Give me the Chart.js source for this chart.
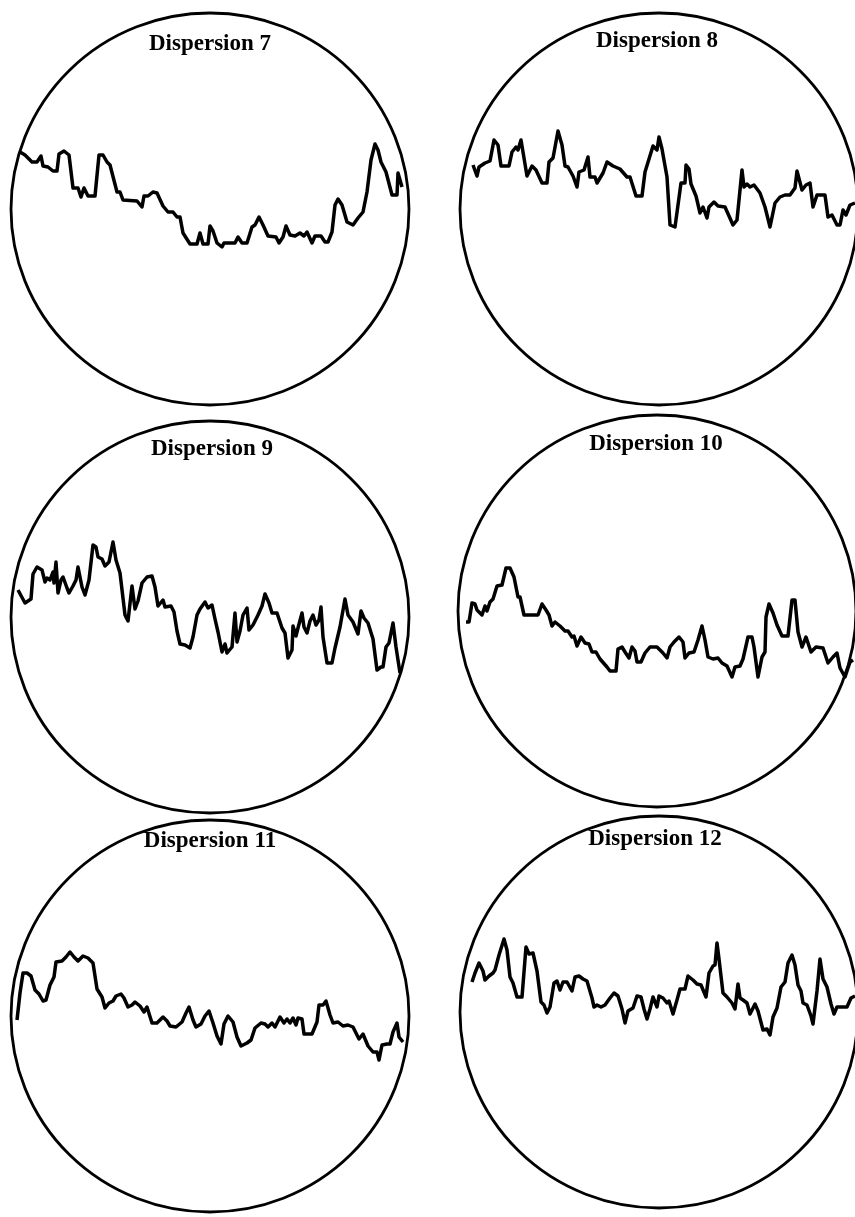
<!DOCTYPE html>
<html>
<head>
<meta charset="utf-8">
<script src="https://cdn.jsdelivr.net/npm/chart.js@4.4.1/dist/chart.umd.min.js"></script>
<style>
  html, body { margin: 0; padding: 0; background: #fff; }
  body { width: 855px; height: 1217px; position: relative; overflow: hidden; }
  canvas { position: absolute; }
  .title {
    position: absolute; width: 300px; text-align: center;
    font-family: "Liberation Serif", "DejaVu Serif", serif;
    font-weight: bold; font-size: 23px; line-height: 23px; color: #000;
  }
</style>
</head>
<body>
<script>
// Panel titles
const titles = ['Dispersion 7', 'Dispersion 8', 'Dispersion 9', 'Dispersion 10', 'Dispersion 11', 'Dispersion 12'];

// Each trace: time along the circle (0-398) and level above the circle's centre (-196..196)
const disp7Time  = [9,14,21,26,30,32,37,42,46,48,53,58,62,67,70,73,77,84,88,92,96,99,106,109,112,126,131,133,137,142,146,152,157,162,166,169,172,179,186,189,192,197,199,202,206,211,213,224,227,231,236,241,244,248,252,257,265,268,272,275,279,284,289,293,296,301,304,310,314,317,321,324,327,331,336,342,347,352,356,360,364,367,370,375,381,386,387,391];
const disp7Level = [57,54,47,47,53,43,42,38,38,55,58,54,21,21,12,21,13,13,54,54,47,44,17,17,9,8,2,13,13,17,16,3,-3,-3,-8,-8,-24,-35,-35,-24,-35,-35,-17,-22,-34,-38,-34,-34,-28,-34,-34,-18,-16,-8,-16,-27,-28,-34,-28,-17,-26,-27,-24,-27,-23,-34,-27,-27,-33,-33,-23,4,10,4,-13,-16,-9,-3,17,49,65,59,47,37,14,14,36,22];

const disp8Time  = [13,17,19,25,30,34,38,41,49,52,56,58,61,63,67,72,76,82,87,89,93,98,102,105,108,113,117,119,124,128,130,135,137,143,147,153,160,167,170,176,182,185,193,197,199,202,207,210,215,221,225,226,229,231,236,240,243,247,249,254,258,265,273,277,282,284,287,290,294,300,305,310,315,320,325,330,335,337,342,346,350,353,357,365,368,372,377,380,383,386,390,395];
const disp8Level = [44,33,42,46,48,69,64,43,43,57,62,59,69,57,33,43,39,26,26,47,51,78,64,43,42,33,22,37,39,52,32,32,26,36,47,43,40,32,32,13,13,37,63,59,72,60,32,-16,-18,26,26,44,40,25,13,-4,2,-9,2,7,3,2,-16,-11,39,22,25,22,24,16,2,-18,6,12,14,14,21,38,19,24,26,2,14,14,-8,-6,-16,-16,-1,-6,4,6];

const disp9Time  = [7,14,20,22,26,31,34,36,39,42,43,45,47,50,52,56,58,62,65,67,71,74,78,82,85,87,91,94,98,102,105,109,114,117,121,124,127,131,136,141,144,147,152,154,160,163,166,169,174,179,182,186,189,194,197,201,204,207,211,214,216,221,224,226,229,232,236,238,242,247,251,254,258,261,266,271,274,277,281,282,285,287,291,293,296,299,302,305,308,310,312,316,321,324,329,334,337,342,347,350,353,357,362,366,370,372,375,378,382,385,389];
const disp9Level = [27,14,18,43,50,47,35,39,37,45,34,55,24,37,40,29,24,31,37,50,30,22,37,72,70,60,58,51,55,75,57,44,2,-4,31,8,16,34,40,41,30,11,17,10,11,5,-14,-27,-28,-31,-20,2,8,15,9,12,-2,-15,-35,-27,-36,-30,4,-25,-14,2,9,-13,-8,2,11,23,14,4,4,-11,-16,-41,-33,-9,-19,-11,4,-10,-16,-4,2,-8,-3,10,-20,-46,-46,-31,-10,18,2,-5,-17,6,-1,-6,-22,-53,-50,-50,-30,-26,-6,-30,-56];

const disp10Time  = [8,11,14,17,19,24,27,29,32,35,39,44,48,52,56,60,62,66,80,84,88,91,94,97,102,107,110,114,116,119,123,127,131,134,138,142,149,152,158,160,164,167,171,174,177,179,183,187,192,199,205,209,212,216,221,225,227,231,236,240,244,247,250,255,260,264,269,274,277,282,285,290,294,296,300,304,307,308,311,315,319,324,330,334,337,340,344,348,353,358,365,370,375,379,382,387,392,395];
const disp10Level = [-11,-11,8,7,1,-4,5,0,9,12,25,26,43,43,34,14,14,-4,-4,7,1,-4,-15,-11,-15,-20,-20,-26,-25,-35,-26,-32,-33,-41,-41,-48,-56,-60,-60,-38,-36,-41,-47,-36,-40,-51,-51,-42,-36,-36,-42,-47,-36,-31,-26,-31,-47,-42,-41,-29,-15,-29,-46,-48,-47,-52,-55,-66,-56,-55,-48,-26,-26,-36,-66,-46,-41,-6,7,-2,-14,-25,-25,11,11,-21,-36,-26,-41,-36,-37,-52,-46,-42,-57,-66,-51,-49];

const disp11Time  = [6,9,12,16,20,24,28,32,35,39,43,45,51,55,59,63,67,72,77,82,86,91,94,98,102,105,110,113,117,121,124,129,133,136,141,146,152,156,159,165,171,175,178,182,185,190,194,198,202,206,210,213,217,222,226,230,236,240,244,250,254,257,261,264,269,273,276,279,282,285,287,291,293,301,306,308,312,315,319,322,327,332,337,342,348,352,357,362,366,368,371,376,379,382,386,388,392];
const disp11Level = [-4,23,43,43,40,26,22,15,16,31,39,54,55,59,64,59,55,60,58,53,27,19,8,13,15,20,22,18,9,11,14,10,4,9,-7,-7,-1,-5,-10,-11,-6,3,9,-4,-11,-8,0,5,-7,-20,-28,-8,0,-6,-21,-30,-27,-24,-12,-7,-8,-11,-7,-11,-1,-7,-3,-7,-2,-9,-2,-3,-18,-18,-6,11,11,15,1,-7,-6,-10,-9,-11,-23,-18,-30,-36,-36,-44,-29,-28,-28,-16,-7,-21,-26];

const disp12Time  = [12,15,19,23,25,29,33,35,39,44,47,50,53,57,62,66,69,73,77,81,84,87,90,94,97,100,103,107,112,115,119,123,127,132,134,137,141,145,150,154,158,162,165,168,173,177,181,184,187,190,193,197,199,203,207,209,213,217,220,225,228,233,237,241,246,249,253,255,257,259,263,267,272,275,278,280,283,287,290,295,298,303,307,310,313,317,321,325,328,332,335,338,341,343,347,351,353,357,360,363,367,371,374,377,387,391,395];
const disp12Level = [30,39,49,41,32,36,39,42,57,73,62,35,29,15,15,65,58,59,41,10,7,-1,5,29,31,22,30,30,21,35,36,33,31,14,5,7,5,7,14,19,16,3,-11,1,4,16,15,3,-7,3,15,5,16,14,9,11,-2,12,23,23,36,32,28,27,15,39,46,47,69,53,19,15,9,3,28,14,12,9,-2,8,1,-18,-17,-23,-5,4,25,30,49,57,47,27,21,9,7,-4,-12,21,53,33,25,8,-2,5,5,14,16];

const panels = [
  { time: disp7Time,  level: disp7Level,  left: 11,  top: 13,  titleX: 210, titleY: 43 },
  { time: disp8Time,  level: disp8Level,  left: 460, top: 13,  titleX: 657, titleY: 40 },
  { time: disp9Time,  level: disp9Level,  left: 11,  top: 421, titleX: 212, titleY: 448 },
  { time: disp10Time, level: disp10Level, left: 458, top: 415, titleX: 656, titleY: 443 },
  { time: disp11Time, level: disp11Level, left: 11,  top: 820, titleX: 210, titleY: 840 },
  { time: disp12Time, level: disp12Level, left: 460, top: 816, titleX: 655, titleY: 838 }
];

const PAD = 3;
const DIAM_X = 398, DIAM_Y = 392;

// Draws the round frame that sits on the chart area
const circleFrame = {
  id: 'circleFrame',
  beforeDatasetsDraw(chart) {
    const { ctx, chartArea: a } = chart;
    ctx.save();
    ctx.lineWidth = 2.8;
    ctx.strokeStyle = '#000';
    ctx.beginPath();
    ctx.ellipse((a.left + a.right) / 2, (a.top + a.bottom) / 2,
                (a.right - a.left) / 2, (a.bottom - a.top) / 2, 0, 0, Math.PI * 2);
    ctx.stroke();
    ctx.restore();
  }
};

panels.forEach(function(p, i) {
  const canvas = document.createElement('canvas');
  canvas.width = DIAM_X + PAD * 2;
  canvas.height = DIAM_Y + PAD * 2;
  canvas.style.left = (p.left - PAD) + 'px';
  canvas.style.top = (p.top - PAD) + 'px';
  document.body.appendChild(canvas);

  const label = document.createElement('div');
  label.className = 'title';
  label.textContent = titles[i];
  label.style.left = (p.titleX - 150) + 'px';
  label.style.top = (p.titleY - 12) + 'px';
  document.body.appendChild(label);

  new Chart(canvas, {
    type: 'line',
    data: {
      datasets: [{
        data: p.time.map((t, k) => ({ x: t, y: p.level[k] })),
        borderColor: '#000',
        borderWidth: 3.5,
        borderJoinStyle: 'round',
        pointRadius: 0,
        tension: 0,
        fill: false
      }]
    },
    options: {
      responsive: false,
      animation: false,
      layout: { padding: PAD },
      plugins: { legend: { display: false }, tooltip: { enabled: false }, title: { display: false } },
      scales: {
        x: { type: 'linear', min: 0, max: DIAM_X, display: false },
        y: { type: 'linear', min: -DIAM_Y / 2, max: DIAM_Y / 2, display: false }
      }
    },
    plugins: [circleFrame]
  });
});
</script>
</body>
</html>
